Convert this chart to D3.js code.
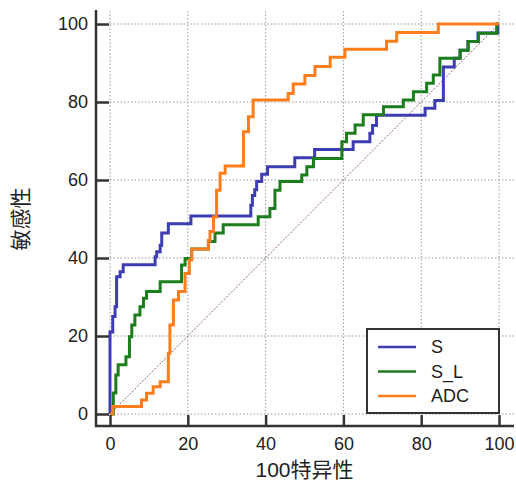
<!DOCTYPE html>
<html>
<head>
<meta charset="utf-8">
<script src="https://cdn.jsdelivr.net/npm/d3@7"></script>
<style>
  body { margin: 0; background: #fff; }
  text { font-family: "Liberation Sans", Arial, "Noto Sans CJK SC", sans-serif; fill: #222; }
</style>
</head>
<body>
<div id="chart"></div>
<script>
// ROC points: [1 - specificity, sensitivity], curve rises to y at x
const seriesNames = ["S", "S_L", "ADC"];
const seriesColors = ["#3d3db3", "#1b7d1b", "#fb7d1c"];

const rocS = [
    [0, 0], [0, 21], [0.7, 25], [1.3, 27.5], [1.7, 35.2], [2.6, 36.5], [3.4, 38.3],
    [11.6, 40.3], [12, 41.6], [12.9, 43.3], [13.3, 46.4], [15, 48.8], [20.8, 50.8],
    [36.2, 53.5], [36.6, 56], [37.2, 57.5], [37.7, 59.6], [39, 61.5], [40.5, 63.4],
    [47.5, 65.7], [52.6, 67.8], [62.5, 69.8], [66.8, 72], [67.5, 74], [68.5, 76.6],
    [81, 78.4], [83.5, 80.4], [85.7, 89], [88.5, 91.2], [90, 93.3], [92, 95.5],
    [94.6, 97.7], [99.7, 100], [100, 100]
];
const rocSL = [
    [0, 0], [0.85, 5.4], [1.5, 10], [2.1, 12.6], [4.1, 14.7], [5, 19.8], [5.6, 22.8],
    [6.4, 25.4], [7.7, 27.5], [8.6, 29.7], [9.4, 31.4], [12.9, 33.9], [18.4, 38.2],
    [19.3, 39.9], [21, 42.3], [25.3, 44.2], [27, 46.4], [29.1, 48.5], [38.1, 50.6],
    [41.1, 52.7], [42.4, 57.4], [43.7, 59.6], [49.3, 61.3], [50.6, 63.4], [52.3, 65.5],
    [59.6, 69.8], [60.8, 72], [63, 74.1], [65.1, 76.7], [70.3, 78.8], [75.4, 80.5],
    [78, 82.6], [81.4, 84.8], [83.1, 86.9], [84.8, 91.2], [90, 93.3], [92.1, 95.5],
    [94.7, 97.6], [99.4, 100], [100, 100]
];
const rocADC = [
    [0, 0], [0.7, 1.9], [8.1, 3.6], [9.4, 5.3], [11.1, 7], [12.9, 8.3], [15, 15.6],
    [15.4, 22.8], [16.3, 29.2], [17.6, 31.4], [19.3, 36], [20.4, 39.5], [21, 42.3],
    [25.3, 44.5], [25.7, 46.8], [26.6, 50.6], [27.4, 57.4], [28.3, 61.7], [29.6, 63.6],
    [34.3, 72.4], [35.6, 76.2], [36.8, 80.5], [45.8, 82.2], [47.1, 84.6], [50.1, 86.8],
    [52.7, 89.1], [56.6, 91.5], [60.4, 93.5], [71.1, 95.6], [73.7, 97.8], [84.4, 100],
    [100, 100]
];
const seriesData = [rocS, rocSL, rocADC];
const tickValues = [0, 20, 40, 60, 80, 100];
const xTitle = "100特异性";
const yTitle = "敏感性";

const width = 516, height = 486;

const svg = d3.select("#chart").append("svg")
    .attr("width", width)
    .attr("height", height);

const x = d3.scaleLinear().domain([0, 100]).range([110, 499]);
const y = d3.scaleLinear().domain([0, 100]).range([414, 24]);

const axisX = 96;   // left axis line position
const axisY = 426;  // bottom axis line position

// grid
const grid = svg.append("g")
    .attr("stroke", "#9a9a9a")
    .attr("stroke-width", 1)
    .attr("stroke-dasharray", "1.5,2");
grid.selectAll(".gx")
    .data(tickValues)
    .join("line")
    .attr("x1", d => x(d)).attr("x2", d => x(d))
    .attr("y1", 11).attr("y2", y(0));
grid.selectAll(".gy")
    .data(tickValues)
    .join("line")
    .attr("x1", x(0)).attr("x2", width)
    .attr("y1", d => y(d)).attr("y2", d => y(d));

// diagonal reference
svg.append("line")
    .attr("x1", x(0)).attr("y1", y(0))
    .attr("x2", x(100)).attr("y2", y(100))
    .attr("stroke", "#a0606e")
    .attr("stroke-width", 1)
    .attr("stroke-dasharray", "2,1.5");

// ROC curves
const line = d3.line()
    .x(d => x(d[0]))
    .y(d => y(d[1]))
    .curve(d3.curveStepAfter);

svg.append("g")
    .selectAll("path")
    .data(seriesData)
    .join("path")
    .attr("fill", "none")
    .attr("stroke", (d, i) => seriesColors[i])
    .attr("stroke-width", 3)
    .attr("d", line);

// axes
const yAxis = svg.append("g")
    .attr("transform", `translate(${axisX},0)`)
    .call(d3.axisLeft(y).tickValues(tickValues).tickSize(-13).tickPadding(8));
const xAxis = svg.append("g")
    .attr("transform", `translate(0,${axisY})`)
    .call(d3.axisBottom(x).tickValues(tickValues).tickSize(-11).tickPadding(11));

[yAxis, xAxis].forEach(g => {
    g.select(".domain").remove();
    g.selectAll(".tick line").attr("stroke", "#333").attr("stroke-width", 2.5);
    g.selectAll(".tick text")
        .style("font-size", "18px")
        .attr("fill", "#222");
});

svg.append("line")
    .attr("x1", axisX).attr("x2", axisX)
    .attr("y1", 10).attr("y2", axisY + 1)
    .attr("stroke", "#333").attr("stroke-width", 2.5);
svg.append("line")
    .attr("x1", axisX - 1).attr("x2", 514)
    .attr("y1", axisY).attr("y2", axisY)
    .attr("stroke", "#333").attr("stroke-width", 2.5);

// axis titles
svg.append("text")
    .attr("x", x(50)).attr("y", 477)
    .attr("text-anchor", "middle")
    .style("font-size", "21px")
    .text(xTitle);
svg.append("text")
    .attr("transform", `translate(28,${y(50)}) rotate(-90)`)
    .attr("text-anchor", "middle")
    .style("font-size", "21px")
    .text(yTitle);

// legend
const legend = svg.append("g").attr("transform", "translate(367,329)");
legend.append("rect")
    .attr("width", 132).attr("height", 84)
    .attr("fill", "#fff")
    .attr("stroke", "#333").attr("stroke-width", 2);
const items = legend.selectAll(".item")
    .data(seriesNames)
    .join("g")
    .attr("transform", (d, i) => `translate(0,${18 + i * 24.5})`);
items.append("line")
    .attr("x1", 11).attr("x2", 49)
    .attr("stroke", (d, i) => seriesColors[i])
    .attr("stroke-width", 2.5);
items.append("text")
    .attr("x", 64).attr("dy", "0.35em")
    .style("font-size", "18px")
    .text(d => d);
</script>
</body>
</html>
